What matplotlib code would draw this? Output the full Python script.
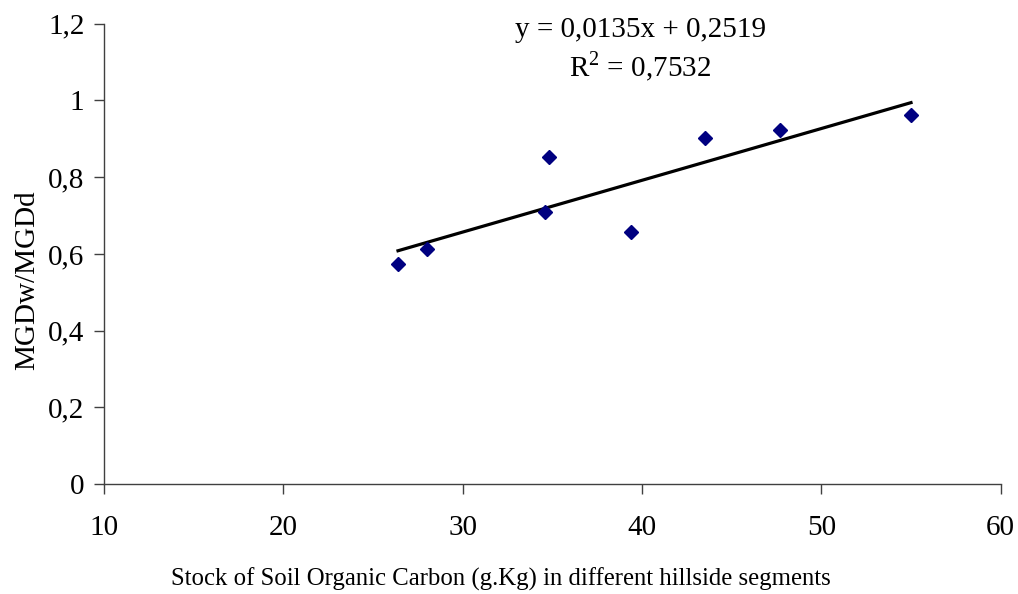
import matplotlib
matplotlib.use("Agg")
import matplotlib.pyplot as plt
import numpy as np

# Data
soc_stock = [26.4, 28.0, 34.6, 34.8, 39.4, 43.5, 47.7, 55.0]
mgd_ratio = [0.574, 0.613, 0.710, 0.853, 0.657, 0.902, 0.922, 0.961]
trend_slope = 0.0135
trend_intercept = 0.2519
trend_r2 = 0.7532
x_ticks = [10, 20, 30, 40, 50, 60]
y_ticks = [0, 0.2, 0.4, 0.6, 0.8, 1.0, 1.2]
y_tick_labels = ["0", "0,2", "0,4", "0,6", "0,8", "1", "1,2"]

plt.rcParams['font.family'] = ['Liberation Serif', 'DejaVu Serif']
plt.rcParams['mathtext.fontset'] = 'custom'
plt.rcParams['mathtext.rm'] = 'Liberation Serif'

fig = plt.figure(figsize=(10.18, 5.94), dpi=100)
ax = fig.add_axes([0.102, 0.185, 0.881, 0.775])

ax.plot(soc_stock, mgd_ratio, linestyle='none', marker='D', markersize=7.5,
        color='#000080', zorder=3)

xs = np.array([min(soc_stock), max(soc_stock)])
ax.plot(xs, trend_slope * xs + trend_intercept, color='black', linewidth=2.3, zorder=2)

ax.set_xlim(10, 60)
ax.set_ylim(0, 1.2)
ax.set_xticks(x_ticks)
ax.set_xticklabels([str(v) for v in x_ticks])
ax.set_yticks(y_ticks)
ax.set_yticklabels(y_tick_labels)

for s in ['top', 'right']:
    ax.spines[s].set_visible(False)
for s in ['left', 'bottom']:
    ax.spines[s].set_color('#404040')
    ax.spines[s].set_linewidth(1.0)

ax.tick_params(axis='both', direction='out', length=7, width=1.0, color='#404040',
               labelsize=21)
ax.tick_params(axis='x', pad=15)
ax.tick_params(axis='y', pad=7)

ax.set_xlabel("Stock of Soil Organic Carbon (g.Kg) in different hillside segments",
              fontsize=17.8, va='center', ha='center')
ax.xaxis.set_label_coords(0.443, -0.207)
ax.set_ylabel("MGDw/MGDd", fontsize=21, va='center', ha='center')
ax.yaxis.set_label_coords(-0.085, 0.443)

eq_text = "y = {:.4f}x + {:.4f}".format(trend_slope, trend_intercept).replace('.', ',')
r2_text = "R$^{2}$ = " + "{:.4f}".format(trend_r2).replace('.', ',')
ax.text(39.9, 1.166, eq_text, ha='center', va='baseline', fontsize=21, clip_on=False)
ax.text(39.9, 1.062, r2_text, ha='center', va='baseline', fontsize=21, clip_on=False)

fig.savefig("out.png", dpi=100)
